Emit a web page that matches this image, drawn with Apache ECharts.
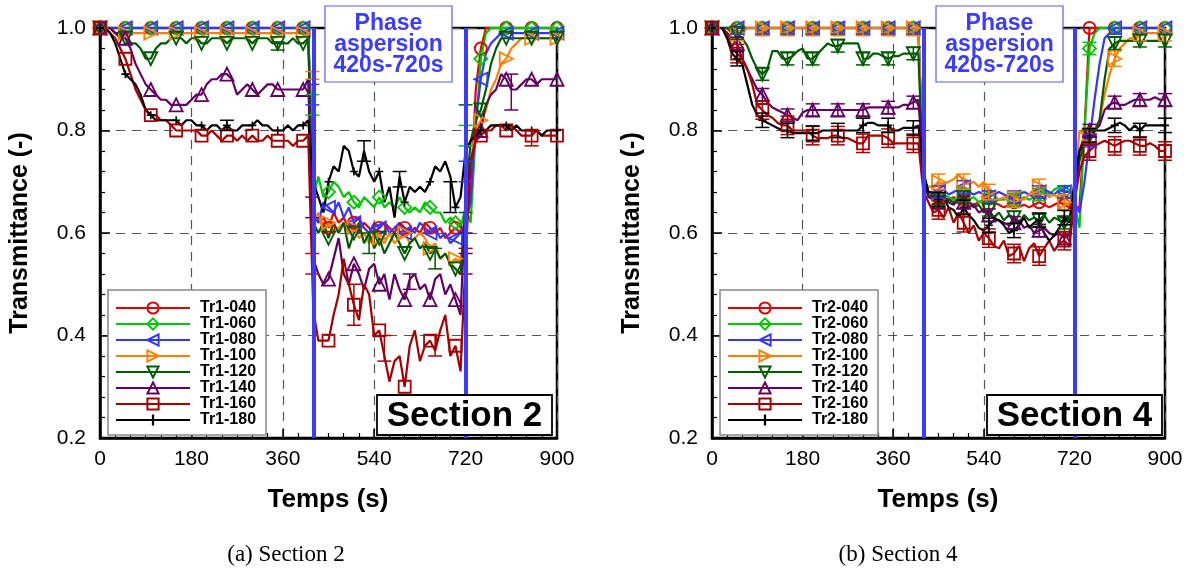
<!DOCTYPE html>
<html><head><meta charset="utf-8">
<script src="https://cdn.jsdelivr.net/npm/echarts@6/dist/echarts.min.js"></script>
<style>html,body{margin:0;padding:0;background:#fff}#c{width:1190px;height:577px}</style>
</head><body><div id="c"></div>
<script>
// time (s)
const T = [0,10,20,30,40,50,60,70,80,90,100,110,120,130,140,150,160,170,180,190,200,210,220,230,240,250,260,270,280,290,300,310,320,330,340,350,360,370,380,390,400,410,420,430,440,450,460,470,480,490,500,510,520,530,540,550,560,570,580,590,600,610,620,630,640,650,660,670,680,690,700,710,720,730,740,750,760,770,780,790,800,810,820,830,840,850,860,870,880,890,900];
const xTicks = [0,180,360,540,720,900];
const yTicks = [0.2,0.4,0.6,0.8,1.0];
const sprayStartEnd = [420,720];
const namesA = ['Tr1-040','Tr1-060','Tr1-080','Tr1-100','Tr1-120','Tr1-140','Tr1-160','Tr1-180'];
const namesB = ['Tr2-040','Tr2-060','Tr2-080','Tr2-100','Tr2-120','Tr2-140','Tr2-160','Tr2-180'];

// Section 2
const A040 = [1,1,1,1,1,1,1,1,1,1, 1,1,1,1,1,1,1,1,1,1, 1,1,1,1,1,1,1,1,1,1, 1,1,1,1,1,1,1,1,1,1,
 1,1,.64,.62,.63,.61,.64,.62,.63,.61, .62,.60,.62,.61,.60,.61,.62,.61,.60,.62, .61,.60,.61,.60,.62,.61,.60,.61,.59,.60,
 .61,.60,.62,.67,.88,.96,1,1,1,1, 1,1,1,1,1,1,1,1,1,1, 1];
const A060 = [1,1,1,1,1,1,1,1,1,1, 1,1,1,1,1,1,1,1,1,1, 1,1,1,1,1,1,1,1,1,1, 1,1,1,1,1,1,1,1,1,1,
 1,1,.67,.71,.67,.68,.70,.69,.67,.68, .66,.65,.67,.66,.65,.67,.65,.66,.65,.67, .65,.64,.65,.64,.66,.65,.64,.64,.62,.63,
 .62,.61,.65,.62,.80,.94,.99,1,1,1, 1,1,1,1,1,1,1,1,1,1, 1];
const A080 = [1,1,1,1,1,1,1,1,1,1, 1,1,1,1,1,1,1,1,1,1, 1,1,1,1,1,1,1,1,1,1, 1,1,1,1,1,1,1,1,1,1,
 1,1,.64,.62,.66,.65,.64,.66,.63,.65, .62,.63,.61,.60,.62,.61,.62,.60,.61,.62, .60,.61,.60,.62,.61,.60,.61,.59,.60,.58,
 .59,.60,.62,.66,.82,.90,.95,.97,.98,.99, .99,.99,.99,.99,.99,.99,.99,.99,.99,.99, .99];
const A100 = [1,1,1,.99,.99,.99,.99,.99,.99,.99, .99,.99,.99,.99,.99,.99,.99,.99,.99,.99, .99,.99,.99,.99,.99,.99,.99,.99,.99,.99, .99,.99,.99,.99,.99,.99,.99,.99,.99,.99,
 .99,.99,.62,.64,.60,.62,.60,.61,.62,.60, .61,.59,.60,.58,.60,.59,.58,.60,.58,.59, .60,.58,.59,.60,.59,.57,.58,.55,.56,.54,
 .55,.54,.62,.74,.80,.82,.84,.88,.90,.93, .94,.96,.97,.98,.98,.98,.98,.98,.98,.98, .98];
const A120 = [1,1,1,.99,.98,.98,.97,.97,.96,.94, .94,.96,.97,.97,.98,.98,.98,.97,.98,.98, .97,.97,.98,.98,.98,.97,.98,.98,.98,.98, .97,.98,.98,.98,.97,.97,.97,.97,.98,.97,
 .97,.98,.62,.60,.62,.59,.62,.60,.62,.57, .60,.62,.58,.60,.57,.59,.56,.58,.60,.58, .56,.58,.59,.57,.58,.56,.57,.55,.56,.54,
 .53,.52,.66,.78,.82,.84,.88,.93,.96,.98, .98,.98,.98,.98,.98,.98,.98,.98,.98,.98, .98];
const A140 = [1,1,1,.99,.99,.98,.96,.93,.91,.89, .88,.87,.86,.86,.85,.85,.85,.85,.86,.87, .87,.89,.90,.90,.91,.91,.90,.87,.88,.89, .88,.87,.88,.89,.89,.88,.88,.88,.88,.88,
 .88,.90,.55,.52,.50,.51,.55,.59,.52,.50, .54,.52,.49,.53,.54,.50,.52,.47,.52,.49, .47,.51,.52,.49,.50,.47,.51,.52,.48,.50,
 .47,.44,.66,.74,.78,.80,.85,.87,.88,.91, .90,.88,.88,.89,.90,.90,.89,.90,.90,.90, .90];
const A160 = [1,1,.99,.98,.96,.94,.91,.88,.86,.84, .83,.83,.82,.82,.81,.80,.80,.80,.80,.80, .79,.79,.80,.79,.78,.79,.79,.78,.79,.78, .79,.78,.78,.79,.78,.78,.78,.78,.77,.78,
 .78,.79,.45,.39,.39,.39,.44,.48,.55,.50, .46,.43,.50,.48,.40,.41,.36,.31,.35,.36, .30,.38,.41,.35,.38,.39,.37,.41,.44,.36,
 .38,.33,.55,.74,.78,.79,.80,.80,.81,.81, .80,.81,.80,.79,.79,.79,.80,.79,.79,.79, .79];
const A180 = [1,1,.99,.97,.94,.91,.90,.89,.87,.84, .83,.82,.82,.82,.82,.82,.81,.82,.82,.81, .81,.80,.81,.81,.80,.81,.80,.80,.81,.81, .81,.82,.81,.81,.80,.80,.80,.81,.80,.81,
 .81,.82,.70,.67,.64,.70,.73,.72,.77,.76, .72,.71,.76,.72,.70,.72,.66,.69,.63,.71, .66,.69,.68,.69,.68,.70,.73,.72,.74,.71,
 .65,.67,.76,.78,.79,.80,.80,.81,.81,.81, .81,.80,.81,.80,.80,.80,.80,.79,.80,.80, .80];

// Section 4
const B040 = [1,1,1,1,1,1,1,1,1,1, 1,1,1,1,1,1,1,1,1,1, 1,1,1,1,1,1,1,1,1,1, 1,1,1,1,1,1,1,1,1,1,
 1,1,.70,.68,.665,.67,.66,.665,.67,.66, .665,.66,.655,.66,.665,.655,.66,.655,.65,.655, .66,.65,.655,.65,.655,.66,.655,.65,.655,.66,
 .655,.65,.65,.65,.80,1,1,1,1,1, 1,1,1,1,1,1,1,1,1,1, 1];
const B060 = [1,1,1,1,1,1,1,1,1,1, 1,1,1,1,1,1,1,1,1,1, 1,1,1,1,1,1,1,1,1,1, 1,1,1,1,1,1,1,1,1,1,
 1,1,.70,.675,.67,.665,.675,.67,.665,.67, .675,.665,.67,.66,.665,.67,.66,.665,.665,.67, .665,.66,.67,.665,.67,.675,.68,.675,.685,.69,
 .68,.685,.66,.61,.80,.96,.99,1,1,1, 1,1,1,1,1,1,1,1,1,1, 1];
const B080 = [1,1,1,1,1,1,1,1,1,1, 1,1,1,1,1,1,1,1,1,1, 1,1,1,1,1,1,1,1,1,1, 1,1,1,1,1,1,1,1,1,1,
 1,1,.70,.68,.675,.68,.685,.675,.68,.685, .69,.68,.675,.68,.675,.67,.675,.68,.675,.67, .67,.675,.68,.675,.67,.68,.685,.68,.675,.685,
 .68,.68,.66,.64,.70,.78,.86,.93,.98,.99, 1,1,1,1,1,1,1,1,1,1, 1];
const B100 = [1,1,1,1,.99,.99,.99,1,1,1, 1,1,1,1,1,1,1,1,1,1, 1,1,1,1,1,1,1,1,1,1, 1,1,1,1,1,1,1,1,1,1,
 1,1,.70,.69,.69,.70,.695,.70,.705,.715, .70,.695,.70,.69,.70,.68,.675,.665,.67,.66, .665,.67,.665,.675,.685,.69,.68,.67,.675,.665,
 .66,.655,.68,.80,.79,.79,.80,.82,.87,.91, .94,.96,.97,.98,.98,.99,.99,.99,.99,.99, .99];
const B120 = [1,1,1,1,.99,.99,.98,.965,.94,.92, .91,.92,.955,.955,.94,.94,.945,.955,.96,.94, .94,.95,.96,.97,.965,.965,.97,.97,.97,.97, .94,.94,.95,.95,.945,.94,.945,.945,.95,.95,
 .95,.95,.70,.67,.675,.665,.67,.665,.66,.665, .67,.66,.65,.655,.64,.645,.63,.64,.625,.635, .63,.62,.635,.625,.63,.625,.635,.62,.63,.625,
 .62,.63,.66,.74,.78,.79,.80,.82,.90,.96, .97,.975,.975,.975,.975,.975,.975,.975,.975,.975, .975];
const B140 = [1,1,1,.99,.98,.97,.94,.92,.90,.88, .87,.855,.845,.84,.835,.83,.825,.82,.835,.84, .84,.84,.84,.84,.84,.84,.84,.84,.84,.84, .84,.845,.845,.845,.845,.845,.845,.845,.85,.85,
 .855,.86,.72,.67,.665,.66,.67,.66,.655,.665, .66,.65,.655,.64,.645,.635,.63,.625,.62,.615, .62,.625,.61,.615,.60,.605,.61,.60,.595,.60,
 .59,.595,.66,.76,.79,.80,.80,.81,.84,.85, .855,.85,.85,.855,.86,.86,.86,.86,.865,.86, .86];
const B160 = [1,1,1,.99,.96,.95,.94,.92,.89,.85, .84,.83,.825,.815,.81,.81,.80,.80,.80,.80, .79,.785,.785,.785,.79,.79,.785,.785,.78,.775, .775,.79,.79,.79,.79,.785,.775,.775,.775,.775,
 .775,.775,.68,.66,.64,.645,.63,.65,.62,.64, .62,.60,.615,.585,.60,.59,.575,.57,.585,.555, .56,.575,.545,.57,.58,.555,.57,.585,.565,.58,
 .585,.575,.66,.72,.75,.76,.77,.775,.78,.775, .77,.775,.78,.78,.775,.77,.77,.775,.77,.76, .76];
const B180 = [1,1,1,.98,.95,.94,.93,.89,.85,.83, .82,.815,.81,.805,.80,.80,.795,.795,.795,.795, .795,.795,.80,.80,.80,.80,.80,.80,.80,.80, .81,.815,.815,.81,.81,.81,.80,.80,.805,.805,
 .805,.81,.72,.68,.68,.665,.67,.65,.645,.63, .65,.635,.625,.61,.605,.615,.625,.625,.615,.60, .605,.615,.63,.61,.62,.625,.60,.585,.595,.61,
 .63,.62,.70,.76,.78,.79,.80,.80,.80,.805, .81,.815,.81,.80,.81,.80,.81,.81,.81,.81, .81];

// error bars, Section 2: [series, time, low, high]
const errA = [[3,418,.90,.915],[2,418,.85,.89],[1,418,.83,.87],[5,418,.63,.67],[0,418,.52,.56],
 [2,720,.70,.74],[1,720,.77,.81],[4,720,.64,.85],[5,720,.56,.60],[6,720,.52,.57],
 [4,350,.957,.973],[7,250,.80,.82],[7,520,.74,.78],[7,590,.69,.72],[7,690,.64,.70],
 [6,500,.42,.50],[6,660,.36,.40],[6,560,.35,.40],[5,610,.49,.52],[4,530,.56,.60],[4,660,.53,.57],
 [5,810,.84,.91],[6,850,.77,.80]];
// error bars, Section 4: half-height per series at marker times
const errBTimes = [50,100,150,200,250,300,350,400,450,500,550,600,650,700,750,800,850,900];
const errBSize = [0,0.012,0.012,0.015,0.012,0.012,0.018,0.014];

const colors = ['#e60000','#00c800','#3535ff','#ff8000','#005c00','#640064','#a80000','#000000'];
const symbols = ['circle','diamond','path://M0,5 L10,0 L10,10 Z','path://M10,5 L0,0 L0,10 Z',
  'path://M0,0 L10,0 L5,10 Z','triangle','rect',
  'path://M4,0 L6,0 L6,4 L10,4 L10,6 L6,6 L6,10 L4,10 L4,6 L0,6 L0,4 L4,4 Z'];
const symSize = [12,13,13,13,13,13,12,8];
const FONT = 'Liberation Sans';

const dataA = [A040,A060,A080,A100,A120,A140,A160,A180];
const dataB = [B040,B060,B080,B100,B120,B140,B160,B180];

function lineSeries(names, arrs, gi){
  return arrs.map((arr, s) => ({
    type:'line', name:names[s], xAxisIndex:gi, yAxisIndex:gi,
    data: T.map((t,i)=>[t, arr[i]]),
    symbol: symbols[s],
    symbolSize: (v,p) => (p.dataIndex % 5 === 0 ? symSize[s] : 0),
    showAllSymbol: true,
    lineStyle:{color:colors[s], width:2.2},
    itemStyle:{color: s===7 ? '#000' : 'rgba(255,255,255,0)', borderColor:colors[s], borderWidth: s===7 ? 0 : 1.8},
    emphasis:{disabled:true}, z:2, animation:false
  }));
}

function errSeries(list, gi){
  return {
    type:'custom', xAxisIndex:gi, yAxisIndex:gi, silent:true, z:3, animation:false,
    data: list.map(e => [e[1], e[2], e[3], e[0]]),
    encode:{x:0, y:[1,2]},
    renderItem:(p, api) => {
      const t = api.value(0), lo = api.value(1), hi = api.value(2), c = colors[api.value(3)];
      const a = api.coord([t, Math.max(0.2, lo)]), b = api.coord([t, Math.min(1.0, hi)]);
      const w = 7, st = {stroke:c, lineWidth:1.5, fill:null};
      const ch = [{type:'line', shape:{x1:a[0],y1:a[1],x2:b[0],y2:b[1]}, style:st}];
      if (lo >= 0.2) ch.push({type:'line', shape:{x1:a[0]-w,y1:a[1],x2:a[0]+w,y2:a[1]}, style:st});
      if (hi <= 1.0) ch.push({type:'line', shape:{x1:b[0]-w,y1:b[1],x2:b[0]+w,y2:b[1]}, style:st});
      return {type:'group', children:ch};
    }
  };
}

const errBList = [];
dataB.forEach((arr, s) => {
  if (!errBSize[s]) return;
  errBTimes.forEach(t => { const v = arr[T.indexOf(t)]; errBList.push([s, t, v - errBSize[s], v + errBSize[s]]); });
});

function markSeries(gi){
  return {type:'line', xAxisIndex:gi, yAxisIndex:gi, data:[], silent:true, z:6, animation:false,
    markLine:{silent:true, symbol:['none','none'], label:{show:false}, animation:false,
      lineStyle:{color:'#3c3cff', width:4, type:'solid'},
      emphasis:{disabled:true},
      data: sprayStartEnd.map(x => ({xAxis:x}))}};
}

function xAxis(gi){
  return {gridIndex:gi, type:'value', min:0, max:900, interval:180,
    axisLine:{show:true, onZero:false, lineStyle:{color:'#000', width:2.5}},
    axisTick:{show:true, inside:true, length:9, lineStyle:{color:'#000', width:1.5}},
    minorTick:{show:true, splitNumber:6, length:5, lineStyle:{color:'#000', width:1.2}},
    axisLabel:{color:'#000', fontSize:21, margin:11, fontFamily:FONT},
    splitLine:{show:true, lineStyle:{type:[9,7], color:'#555', width:1.2}}};
}
function yAxis(gi){
  return {gridIndex:gi, type:'value', min:0.2, max:1.0, interval:0.2,
    axisLine:{show:true, onZero:false, lineStyle:{color:'#000', width:2.5}},
    axisTick:{show:true, inside:true, length:10, lineStyle:{color:'#000', width:1.5}},
    minorTick:{show:true, splitNumber:5, length:5, lineStyle:{color:'#000', width:1.2}},
    axisLabel:{color:'#000', fontSize:21, margin:14, fontFamily:FONT, formatter:v=>v.toFixed(1)},
    splitLine:{show:true, lineStyle:{type:[9,7], color:'#555', width:1.2}}};
}
function legend(names, left){
  return {data:names, orient:'vertical', left:left, top:290, itemWidth:74, itemHeight:14, itemGap:0,
    padding:[10,10,7,7], borderColor:'#888', borderWidth:1.5, backgroundColor:'#fff', z:20,
    selectedMode:false, textStyle:{color:'#000', fontSize:16, fontWeight:'bold', fontFamily:FONT, lineHeight:14, padding:[0,0,0,5]}};
}
function phaseBox(x){
  return [
    {type:'rect', z:50, shape:{x:x, y:6, width:127, height:76}, style:{fill:'#fff', stroke:'#5a5aff', lineWidth:1.2}},
    {type:'text', z:51, x:x+63.5, y:45, style:{text:'Phase\naspersion\n420s-720s', align:'center', verticalAlign:'middle', fill:'#3c3cff', font:'bold 23px "Liberation Sans"', lineHeight:21}}
  ];
}
function sectionBox(x, label){
  return [
    {type:'rect', z:50, shape:{x:x, y:395, width:175, height:40}, style:{fill:'#fff', stroke:'#000', lineWidth:1.8}},
    {type:'text', z:51, x:x+87.5, y:416, style:{text:label, align:'center', verticalAlign:'middle', fill:'#000', font:'bold 35px "Liberation Sans"'}}
  ];
}
function texts(cx, yx, cap, capx){
  return [
    {type:'text', z:51, x:yx, y:233, rotation:Math.PI/2, style:{text:'Transmittance (-)', align:'center', verticalAlign:'middle', fill:'#000', font:'bold 25px "Liberation Sans"'}},
    {type:'text', z:51, x:cx, y:500, style:{text:'Temps (s)', align:'center', verticalAlign:'middle', fill:'#000', font:'bold 26px "Liberation Sans"'}},
    {type:'text', z:51, x:capx, y:555, style:{text:cap, align:'center', verticalAlign:'middle', fill:'#000', font:'23px "Liberation Serif"'}}
  ];
}

const chart = echarts.init(document.getElementById('c'), null, {renderer:'canvas'});
chart.setOption({
  animation:false,
  backgroundColor:'#fff',
  grid:[
    {left:100, top:28, width:457, height:410, show:true, borderColor:'#000', borderWidth:2.5, backgroundColor:'rgba(0,0,0,0)'},
    {left:712, top:28, width:453, height:410, show:true, borderColor:'#000', borderWidth:2.5, backgroundColor:'rgba(0,0,0,0)'}
  ],
  xAxis:[xAxis(0), xAxis(1)],
  yAxis:[yAxis(0), yAxis(1)],
  legend:[legend(namesA, 108), legend(namesB, 720)],
  series:[].concat(
    lineSeries(namesA, dataA, 0), [errSeries(errA, 0), markSeries(0)],
    lineSeries(namesB, dataB, 1), [errSeries(errBList, 1), markSeries(1)]
  ),
  graphic:[].concat(
    phaseBox(325), phaseBox(936), sectionBox(377,'Section 2'), sectionBox(987,'Section 4'),
    texts(328, 20, '(a) Section 2', 286), texts(938, 632, '(b) Section 4', 898)
  )
});
</script>
</body></html>
